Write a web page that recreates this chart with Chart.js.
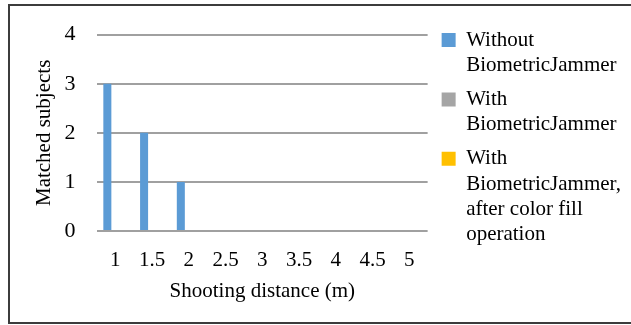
<!DOCTYPE html>
<html>
<head>
<meta charset="utf-8">
<script src="https://cdn.jsdelivr.net/npm/chart.js@4/dist/chart.umd.min.js"></script>
<style>
  html, body { margin: 0; padding: 0; background: #fff; overflow: hidden; }
  #wrap { position: relative; width: 631px; height: 325px; }
  #frame { position: absolute; left: 8px; top: 4px; width: 625px; height: 320px;
           box-sizing: border-box; border: 2px solid #3c3c3c; pointer-events: none; }
  canvas { position: absolute; left: 0; top: 0; }
</style>
</head>
<body>
<div id="wrap">
  <div id="frame"></div>
  <canvas id="c" width="631" height="325"></canvas>
</div>
<script>
const categories = ['1', '1.5', '2', '2.5', '3', '3.5', '4', '4.5', '5'];
const withoutJammer = [3, 2, 1, 0, 0, 0, 0, 0, 0];
const withJammer = [0, 0, 0, 0, 0, 0, 0, 0, 0];
const withJammerColorFill = [0, 0, 0, 0, 0, 0, 0, 0, 0];
const seriesLabels = [
  ['Without', 'BiometricJammer'],
  ['With', 'BiometricJammer'],
  ['With', 'BiometricJammer,', 'after color fill', 'operation']
];
const seriesColors = ['#5b9bd5', '#a5a5a5', '#ffc000'];
const yTitle = 'Matched subjects';
const xTitle = 'Shooting distance (m)';

const FONT = "'Liberation Serif', 'Times New Roman', serif";
const LEGEND_SIZE = 21;
const SHIFT_X = 5, SHIFT_Y = -12.5;

const legendTweak = {
  id: 'legendTweak',
  beforeLayout(chart) {
    const lg = chart.legend;
    if (lg && !lg.__tw) {
      lg.__tw = true;
      const fit = lg.fit.bind(lg);
      lg.fit = function () {
        fit();
        const ctx = this.ctx;
        const lo = this.options.labels;
        ctx.save();
        ctx.font = LEGEND_SIZE + 'px ' + FONT;
        let maxW = 0;
        for (const it of this.legendItems) {
          const lines = Array.isArray(it.text) ? it.text : [it.text];
          for (const l of lines) maxW = Math.max(maxW, ctx.measureText(l).width);
        }
        ctx.restore();
        this.width = lo.padding + lo.boxWidth + LEGEND_SIZE / 2 + maxW + 10 + SHIFT_X;
      };
      const draw = lg.draw.bind(lg);
      lg.draw = function () {
        const ctx = this.ctx;
        ctx.save(); ctx.translate(SHIFT_X, SHIFT_Y); draw(); ctx.restore();
      };
    }
  }
};

new Chart(document.getElementById('c'), {
  type: 'bar',
  data: {
    labels: categories,
    datasets: [
      { label: seriesLabels[0], data: withoutJammer, backgroundColor: seriesColors[0] },
      { label: seriesLabels[1], data: withJammer, backgroundColor: seriesColors[1] },
      { label: seriesLabels[2], data: withJammerColorFill, backgroundColor: seriesColors[2] }
    ]
  },
  options: {
    responsive: false,
    animation: false,
    devicePixelRatio: 1,
    layout: { padding: { left: 10, right: 0, top: 33, bottom: 12 } },
    datasets: { bar: { categoryPercentage: 0.655, barPercentage: 1, borderWidth: 0 } },
    plugins: {
      tooltip: { enabled: false },
      legend: {
        position: 'right',
        align: 'start',
        labels: {
          boxWidth: 14, boxHeight: 14, padding: 9, color: '#000',
          font: { family: FONT, size: LEGEND_SIZE, lineHeight: 1.2 }
        }
      }
    },
    scales: {
      x: {
        grid: { display: false, drawTicks: false },
        border: { display: false },
        ticks: { color: '#000', padding: 16.5, font: { family: FONT, size: 21, lineHeight: 1.2 }, maxRotation: 0 },
        title: { display: true, text: xTitle, color: '#000', padding: { top: -10.3, bottom: 8.9 },
                 font: { family: FONT, size: 21, lineHeight: 1.2 } }
      },
      y: {
        min: 0, max: 4,
        grid: { color: '#a0a0a0', lineWidth: 2, drawTicks: false },
        border: { display: false },
        ticks: { stepSize: 1, color: '#000', padding: 21.5, font: { family: FONT, size: 22, lineHeight: 1.2 } },
        title: { display: true, text: yTitle, color: '#000', padding: { top: 21.4, bottom: -13.6 },
                 font: { family: FONT, size: 21, lineHeight: 1.2 } }
      }
    }
  },
  plugins: [legendTweak]
});
</script>
</body>
</html>
